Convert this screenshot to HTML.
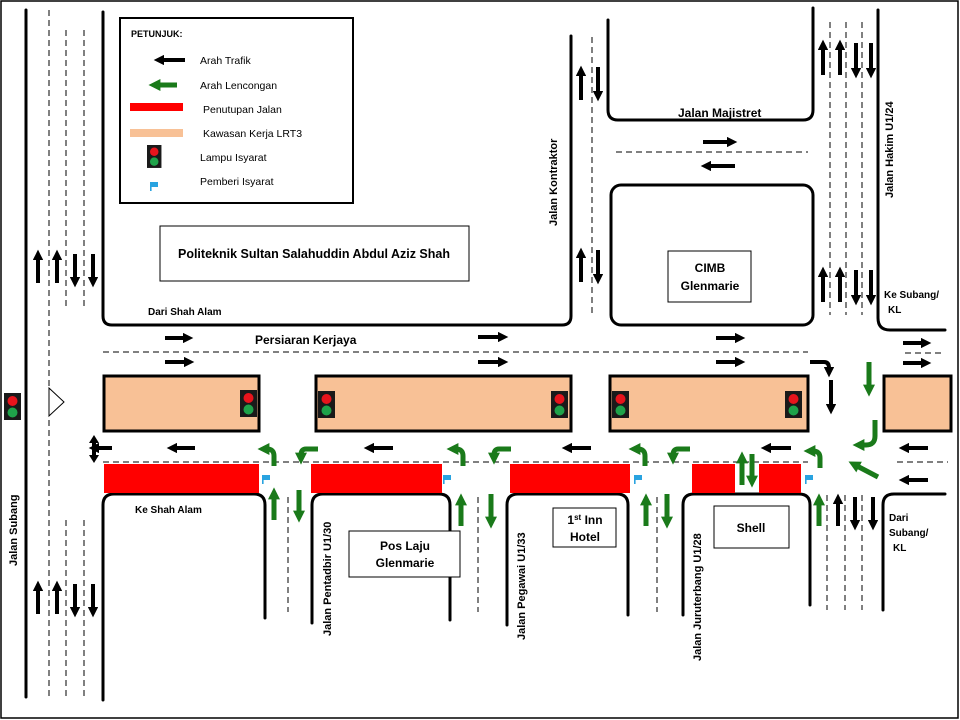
<!DOCTYPE html>
<html><head><meta charset="utf-8"><style>
html,body{margin:0;padding:0;background:#fff}
svg{display:block}
text{font-family:"Liberation Sans",sans-serif;fill:#000}
</style></head><body>
<svg width="960" height="720" viewBox="0 0 960 720" xmlns="http://www.w3.org/2000/svg">
<defs>
<marker id="bk" viewBox="0 0 10 10" refX="2" refY="5" markerWidth="2.6" markerHeight="2.6" orient="auto"><path d="M0,0 L10,5 L0,10 z" fill="#000"/></marker>
<marker id="gn" viewBox="0 0 10 10" refX="2" refY="5" markerWidth="2.4" markerHeight="2.4" orient="auto"><path d="M0,0 L10,5 L0,10 z" fill="#1a7a1a"/></marker>
<g id="tl"><rect x="0" y="0" width="17" height="27" fill="#1a1a1a"/><circle cx="8.5" cy="8" r="5" fill="#e8141c"/><circle cx="8.5" cy="19.5" r="5" fill="#1fa34a"/></g>
<g id="flag"><rect x="0" y="0" width="1.6" height="9" fill="#29a3e0"/><rect x="0" y="0" width="8" height="5" fill="#29a3e0"/></g>
</defs>
<rect x="1" y="1" width="957" height="717" fill="#fff" stroke="#000" stroke-width="1.5"/>

<g fill="none" stroke="#000" stroke-width="1" stroke-dasharray="6,4">
<line x1="49" y1="10" x2="49" y2="700"/>
<line x1="66" y1="30" x2="66" y2="310"/><line x1="84" y1="30" x2="84" y2="310"/>
<line x1="66" y1="520" x2="66" y2="700"/><line x1="84" y1="520" x2="84" y2="700"/>
<line x1="592" y1="37" x2="592" y2="313"/>
<line x1="616" y1="152" x2="808" y2="152"/>
<line x1="830" y1="22" x2="830" y2="315"/><line x1="846" y1="22" x2="846" y2="315"/><line x1="862" y1="22" x2="862" y2="315"/>
<line x1="103" y1="352" x2="808" y2="352"/><line x1="905" y1="353" x2="945" y2="353"/>
<line x1="103" y1="462" x2="808" y2="462"/><line x1="897" y1="462" x2="948" y2="462"/>
<line x1="288" y1="497" x2="288" y2="612"/><line x1="478" y1="497" x2="478" y2="612"/><line x1="657" y1="497" x2="657" y2="612"/>
<line x1="827" y1="495" x2="827" y2="610"/><line x1="845" y1="495" x2="845" y2="610"/><line x1="862" y1="495" x2="862" y2="610"/>
</g>

<g fill="none" stroke="#000" stroke-width="3" stroke-linecap="round">
<line x1="26" y1="10" x2="26" y2="697"/>
<path d="M103,12 V316 Q103,325 112,325 H562 Q571,325 571,316 V36"/>
<path d="M608,20 V110 Q608,120 618,120 H803 Q813,120 813,110 V8"/>
<rect x="611" y="185" width="202" height="140" rx="10"/>
<path d="M878,10 V318 Q878,330 890,330 H945"/>
<path d="M103,700 V505 Q103,494 114,494 H254 Q265,494 265,505 V618"/>
<path d="M312,623 V505 Q312,494 323,494 H439 Q450,494 450,505 V620"/>
<path d="M507,625 V505 Q507,494 518,494 H617 Q628,494 628,505 V615"/>
<path d="M683,615 V505 Q683,494 694,494 H799 Q810,494 810,505 V605"/>
<path d="M883,610 V505 Q883,494 894,494 H945"/>
</g>

<g fill="#f8c196" stroke="#000" stroke-width="3">
<rect x="104" y="376" width="155" height="55"/>
<rect x="316" y="376" width="255" height="55"/>
<rect x="610" y="376" width="198" height="55"/>
<rect x="884" y="376" width="67" height="55"/>
</g>
<g fill="#ff0000">
<rect x="104" y="464" width="155" height="29"/>
<rect x="311" y="464" width="131" height="29"/>
<rect x="510" y="464" width="120" height="29"/>
<rect x="692" y="464" width="43" height="29"/>
<rect x="759" y="464" width="42" height="29"/>
</g>
<use href="#tl" x="240" y="390"/><use href="#tl" x="318" y="391"/><use href="#tl" x="551" y="391"/>
<use href="#tl" x="612" y="391"/><use href="#tl" x="785" y="391"/><use href="#tl" x="4" y="393"/>
<use href="#flag" x="262" y="475"/><use href="#flag" x="443" y="475"/><use href="#flag" x="634" y="475"/><use href="#flag" x="805" y="475"/>
<polygon points="49,388 64,402 49,416" fill="#fff" stroke="#000" stroke-width="1"/>

<g stroke="#000" stroke-width="4" fill="none" marker-end="url(#bk)">
<line x1="38" y1="283" x2="38" y2="258"/><line x1="57" y1="283" x2="57" y2="258"/>
<line x1="75" y1="254" x2="75" y2="279"/><line x1="93" y1="254" x2="93" y2="279"/>
<line x1="38" y1="614" x2="38" y2="589"/><line x1="57" y1="614" x2="57" y2="589"/>
<line x1="75" y1="584" x2="75" y2="609"/><line x1="93" y1="584" x2="93" y2="609"/>
<line x1="581" y1="100" x2="581" y2="74"/><line x1="598" y1="67" x2="598" y2="93"/>
<line x1="581" y1="282" x2="581" y2="256"/><line x1="598" y1="250" x2="598" y2="276"/>
<line x1="703" y1="142" x2="729" y2="142"/><line x1="735" y1="166" x2="709" y2="166"/>
<line x1="823" y1="75" x2="823" y2="48"/><line x1="840" y1="75" x2="840" y2="48"/>
<line x1="856" y1="43" x2="856" y2="70"/><line x1="871" y1="43" x2="871" y2="70"/>
<line x1="823" y1="302" x2="823" y2="275"/><line x1="840" y1="302" x2="840" y2="275"/>
<line x1="856" y1="270" x2="856" y2="297"/><line x1="871" y1="270" x2="871" y2="297"/>
<line x1="165" y1="338" x2="185" y2="338"/><line x1="165" y1="362" x2="186" y2="362"/>
<line x1="478" y1="337" x2="500" y2="337"/><line x1="478" y1="362" x2="500" y2="362"/>
<line x1="716" y1="338" x2="737" y2="338"/><line x1="716" y1="362" x2="737" y2="362"/>
<line x1="903" y1="343" x2="923" y2="343"/><line x1="903" y1="363" x2="923" y2="363"/>
<line x1="195" y1="448" x2="175" y2="448"/><line x1="393" y1="448" x2="372" y2="448"/>
<line x1="591" y1="448" x2="570" y2="448"/><line x1="791" y1="448" x2="769" y2="448"/>
<line x1="928" y1="448" x2="907" y2="448"/><line x1="928" y1="480" x2="907" y2="480"/>
<path d="M810,362 H824 Q829,362 829,368 V369"/>
<line x1="831" y1="380" x2="831" y2="406"/>
<line x1="838" y1="526" x2="838" y2="502"/><line x1="855" y1="497" x2="855" y2="522"/><line x1="873" y1="497" x2="873" y2="522"/>
<line x1="112" y1="448" x2="97" y2="448"/>
</g>
<g stroke="#000" stroke-width="4" fill="none">
<line x1="94" y1="442" x2="94" y2="456"/>
<polygon points="94,435 89,443 99,443" fill="#000" stroke="none"/>
<polygon points="94,463 89,455 99,455" fill="#000" stroke="none"/>
</g>

<g stroke="#1a7a1a" stroke-width="5" fill="none" marker-end="url(#gn)">
<line x1="274" y1="520" x2="274" y2="497"/><line x1="299" y1="490" x2="299" y2="513"/>
<line x1="461" y1="526" x2="461" y2="503"/><line x1="491" y1="494" x2="491" y2="519"/>
<line x1="646" y1="526" x2="646" y2="503"/><line x1="667" y1="494" x2="667" y2="519"/>
<line x1="819" y1="526" x2="819" y2="503"/>
<line x1="742" y1="485" x2="742" y2="461"/><line x1="752" y1="454" x2="752" y2="478"/>
<path d="M274,466 V456 Q274,449 267,449"/>
<path d="M318,449 H306 Q301,449 301,455"/>
<path d="M463,466 V456 Q463,449 456,449"/>
<path d="M511,449 H499 Q494,449 494,455"/>
<path d="M645,466 V456 Q645,449 638,449"/>
<path d="M690,449 H678 Q673,449 673,455"/>
<path d="M820,468 V458 Q820,451 813,451"/>
<line x1="869" y1="362" x2="869" y2="387"/>
<path d="M875,420 V436 Q875,445 866,445 H862"/>
<line x1="878" y1="477" x2="857" y2="466"/>
</g>

<!-- legend -->
<rect x="120" y="18" width="233" height="185" fill="#fff" stroke="#000" stroke-width="2"/>
<text x="131" y="37" font-size="9" font-weight="bold">PETUNJUK:</text>
<line x1="185" y1="60" x2="162" y2="60" stroke="#000" stroke-width="4" marker-end="url(#bk)"/>
<text x="200" y="64" font-size="10.5">Arah Trafik</text>
<line x1="177" y1="85" x2="158" y2="85" stroke="#1a7a1a" stroke-width="5" marker-end="url(#gn)"/>
<text x="200" y="89" font-size="10.5">Arah Lencongan</text>
<rect x="130" y="103" width="53" height="8" fill="#ff0000"/>
<text x="203" y="113" font-size="10.5">Penutupan Jalan</text>
<rect x="130" y="129" width="53" height="8" fill="#f8c196"/>
<text x="203" y="137" font-size="10.5">Kawasan Kerja LRT3</text>
<g transform="translate(147,145) scale(0.85)"><use href="#tl"/></g>
<text x="200" y="161" font-size="10.5">Lampu Isyarat</text>
<use href="#flag" x="150" y="182"/>
<text x="200" y="185" font-size="10.5">Pemberi Isyarat</text>

<rect x="160" y="226" width="309" height="55" fill="#fff" stroke="#000" stroke-width="1"/>
<text x="314" y="258" font-size="12.5" font-weight="bold" text-anchor="middle">Politeknik Sultan Salahuddin Abdul Aziz Shah</text>
<rect x="668" y="251" width="83" height="51" fill="#fff" stroke="#000" stroke-width="1"/>
<text x="710" y="272" font-size="12" font-weight="bold" text-anchor="middle">CIMB</text>
<text x="710" y="290" font-size="12" font-weight="bold" text-anchor="middle">Glenmarie</text>
<rect x="349" y="531" width="111" height="46" fill="#fff" stroke="#000" stroke-width="1"/>
<text x="405" y="550" font-size="12" font-weight="bold" text-anchor="middle">Pos Laju</text>
<text x="405" y="567" font-size="12" font-weight="bold" text-anchor="middle">Glenmarie</text>
<rect x="553" y="508" width="63" height="39" fill="#fff" stroke="#000" stroke-width="1"/>
<text x="585" y="524" font-size="12" font-weight="bold" text-anchor="middle">1<tspan font-size="8" dy="-4">st</tspan><tspan dy="4"> Inn</tspan></text>
<text x="585" y="541" font-size="12" font-weight="bold" text-anchor="middle">Hotel</text>
<rect x="714" y="506" width="75" height="42" fill="#fff" stroke="#000" stroke-width="1"/>
<text x="751" y="532" font-size="12" font-weight="bold" text-anchor="middle">Shell</text>

<text x="678" y="117" font-size="12" font-weight="bold">Jalan Majistret</text>
<text x="255" y="344" font-size="12" font-weight="bold">Persiaran Kerjaya</text>
<text x="148" y="315" font-size="10" font-weight="bold">Dari Shah Alam</text>
<text x="135" y="513" font-size="10" font-weight="bold">Ke Shah Alam</text>
<text x="884" y="298" font-size="10" font-weight="bold">Ke Subang/</text>
<text x="888" y="313" font-size="10" font-weight="bold">KL</text>
<text x="889" y="521" font-size="10" font-weight="bold">Dari</text>
<text x="889" y="536" font-size="10" font-weight="bold">Subang/</text>
<text x="893" y="551" font-size="10" font-weight="bold">KL</text>
<text transform="translate(557,226) rotate(-90)" font-size="11" font-weight="bold">Jalan Kontraktor</text>
<text transform="translate(893,198) rotate(-90)" font-size="11" font-weight="bold">Jalan  Hakim U1/24</text>
<text transform="translate(17,566) rotate(-90)" font-size="11" font-weight="bold">Jalan Subang</text>
<text transform="translate(331,636) rotate(-90)" font-size="11" font-weight="bold">Jalan Pentadbir U1/30</text>
<text transform="translate(525,640) rotate(-90)" font-size="11" font-weight="bold">Jalan Pegawai U1/33</text>
<text transform="translate(701,661) rotate(-90)" font-size="11" font-weight="bold">Jalan Juruterbang U1/28</text>
</svg>
</body></html>
